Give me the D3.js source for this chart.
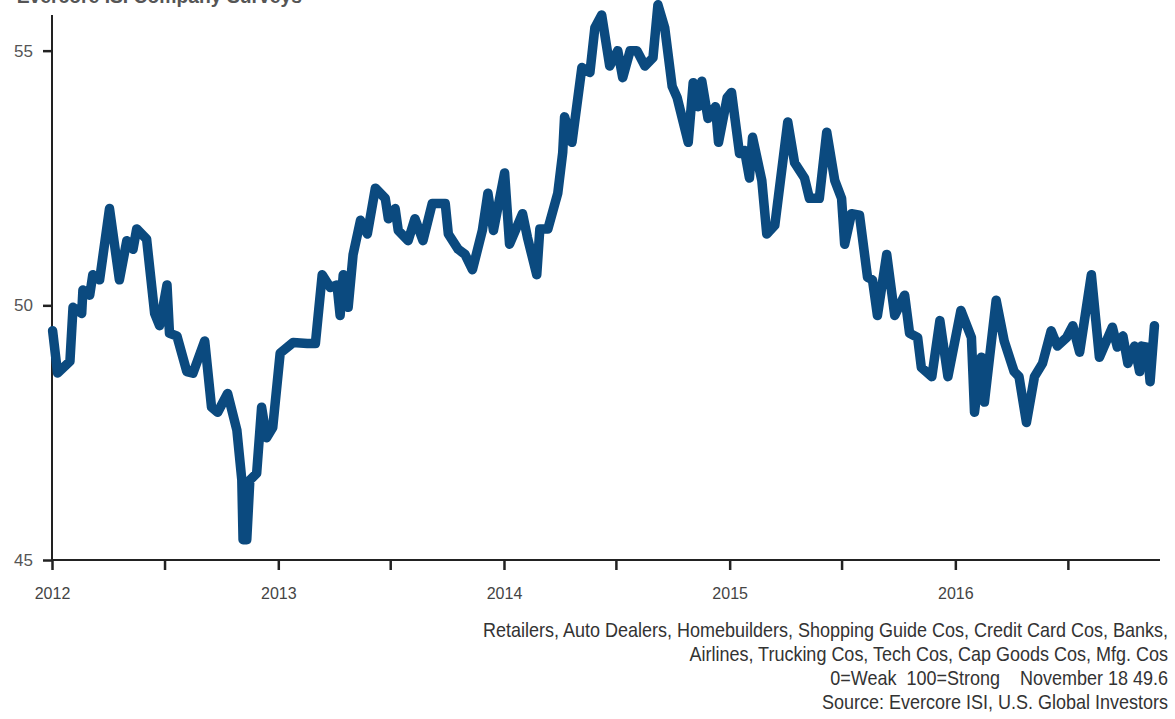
<!DOCTYPE html>
<html>
<head>
<meta charset="utf-8">
<script src="https://cdn.jsdelivr.net/npm/d3@7"></script>
<style>
  html, body { margin: 0; padding: 0; background: #fff; }
  svg { display: block; }
  .narrow { font-family: "Liberation Sans Narrow", "Arial Narrow", "Liberation Sans", sans-serif; }
</style>
</head>
<body>
<svg id="chart" width="1175" height="719"></svg>
<script>
// Evercore ISI company survey composite, weekly readings 2012 – Nov 2016
const dates = [
  "2012-01-02","2012-01-10","2012-01-30","2012-02-04","2012-02-18","2012-02-20","2012-03-02","2012-03-07",
  "2012-03-18","2012-04-03","2012-04-19","2012-05-01","2012-05-11","2012-05-17","2012-06-02","2012-06-15",
  "2012-06-23","2012-07-05","2012-07-09","2012-07-21","2012-08-06","2012-08-16","2012-09-04","2012-09-15",
  "2012-09-25","2012-10-11","2012-10-26","2012-11-03","2012-11-05","2012-11-11","2012-11-16","2012-11-27",
  "2012-12-05","2012-12-13","2012-12-23",
  "2013-01-04","2013-01-25","2013-02-17","2013-03-02","2013-03-13","2013-03-26","2013-04-06","2013-04-11",
  "2013-04-16","2013-04-24","2013-05-02","2013-05-14","2013-05-25","2013-06-07","2013-06-23","2013-06-28",
  "2013-07-09","2013-07-14","2013-07-30","2013-08-10","2013-08-23","2013-09-07","2013-09-28","2013-10-03",
  "2013-10-19","2013-10-30","2013-11-11","2013-11-27","2013-12-06","2013-12-15",
  "2014-01-02","2014-01-10","2014-01-31","2014-02-08","2014-02-23","2014-02-28","2014-03-13","2014-03-29",
  "2014-04-06","2014-04-09","2014-04-21","2014-05-07","2014-05-20","2014-05-28","2014-06-08","2014-06-21",
  "2014-07-04","2014-07-12","2014-07-24","2014-08-04","2014-08-17","2014-08-30","2014-09-07","2014-09-18",
  "2014-09-30","2014-10-08","2014-10-26","2014-11-03","2014-11-11","2014-11-17","2014-11-27","2014-12-09",
  "2014-12-14","2014-12-28",
  "2015-01-04","2015-01-17","2015-01-25","2015-02-02","2015-02-07","2015-02-22","2015-03-02","2015-03-15",
  "2015-04-05","2015-04-16","2015-05-02","2015-05-10","2015-05-26","2015-06-07","2015-06-20","2015-07-01",
  "2015-07-06","2015-07-17","2015-07-30","2015-08-12","2015-08-20","2015-08-28","2015-09-12","2015-09-25",
  "2015-10-11","2015-10-19","2015-11-01","2015-11-07","2015-11-24","2015-12-07","2015-12-20",
  "2016-01-10","2016-01-27","2016-02-01","2016-02-12","2016-02-17","2016-03-07","2016-03-20","2016-04-05",
  "2016-04-13","2016-04-25","2016-05-08","2016-05-21","2016-06-04","2016-06-14","2016-06-29","2016-07-09",
  "2016-07-20","2016-08-08","2016-08-21","2016-09-11","2016-09-19","2016-09-28","2016-10-06","2016-10-17",
  "2016-10-25","2016-10-28","2016-11-06","2016-11-11","2016-11-18"
];
const values = [
  49.5, 48.67, 48.9, 49.96, 49.84, 50.3, 50.2, 50.6,
  50.5, 51.9, 50.5, 51.27, 51.1, 51.5, 51.3, 49.84,
  49.6, 50.4, 49.45, 49.4, 48.7, 48.67, 49.3, 48.0,
  47.9, 48.27, 47.55, 46.57, 45.4, 45.4, 46.57, 46.7,
  48.0, 47.4, 47.6,
  49.06, 49.27, 49.25, 49.25, 50.6, 50.35, 50.4, 49.8,
  50.6, 49.96, 51.0, 51.67, 51.4, 52.3, 52.1, 51.7,
  51.9, 51.47, 51.27, 51.7, 51.27, 52.0, 52.0, 51.4,
  51.1, 51.0, 50.7, 51.47, 52.2, 51.47,
  52.6, 51.2, 51.8, 51.33, 50.6, 51.5, 51.5, 52.2,
  53.0, 53.7, 53.2, 54.67, 54.57, 55.45, 55.7, 54.7,
  55.0, 54.47, 55.0, 55.0, 54.7, 54.86, 55.9, 55.45,
  54.3, 54.08, 53.2, 54.37, 53.9, 54.4, 53.67, 53.9,
  53.2, 54.08,
  54.18, 52.98, 53.04, 52.5, 53.3, 52.45, 51.4, 51.57,
  53.6, 52.8, 52.5, 52.1, 52.1, 53.4, 52.45, 52.1,
  51.2, 51.8, 51.77, 50.55, 50.5, 49.8, 51.0, 49.8,
  50.2, 49.45, 49.37, 48.78, 48.6, 49.7, 48.6,
  49.9, 49.37, 47.9, 48.98, 48.1, 50.1, 49.3, 48.7,
  48.6, 47.7, 48.6, 48.86, 49.5, 49.2, 49.37, 49.6,
  49.08, 50.6, 48.98, 49.57, 49.18, 49.4, 48.86, 49.2,
  48.7, 49.2, 49.18, 48.5, 49.6
];
const yTicks = [45, 50, 55];
const yearLabels = ["2012", "2013", "2014", "2015", "2016"];
const footnotes = [
  "Retailers, Auto Dealers, Homebuilders, Shopping Guide Cos, Credit Card Cos, Banks,",
  "Airlines, Trucking Cos, Tech Cos, Cap Goods Cos, Mfg. Cos",
  "0=Weak  100=Strong    November 18 49.6",
  "Source: Evercore ISI, U.S. Global Investors"
];
const titleText = "Evercore ISI Company Surveys";

const parse = d3.timeParse("%Y-%m-%d");
const series = dates.map((d, i) => ({ date: parse(d), value: values[i] }));

const svg = d3.select("#chart");
const plot = { left: 52, right: 1160, top: 15, bottom: 560 };

const x = d3.scaleTime()
  .domain([new Date(2012, 0, 1), new Date(2016, 10, 27)])
  .range([plot.left, plot.right]);
const y = d3.scaleLinear()
  .domain([45, 55.7])
  .range([plot.bottom, plot.top]);

// Title, running off the top edge of the frame
svg.append("text")
  .attr("transform", "translate(302,3) scale(0.92,1)")
  .attr("text-anchor", "end")
  .attr("font-family", "Liberation Sans, Arial, sans-serif")
  .attr("font-weight", "bold")
  .attr("font-size", 21)
  .attr("fill", "#555")
  .text(titleText);

// Y axis
const yAxis = svg.append("g")
  .attr("transform", `translate(${plot.left},0)`)
  .call(d3.axisLeft(y).tickValues(yTicks).tickSize(9).tickPadding(10).tickFormat(d3.format("d")));
yAxis.select(".domain").attr("d", `M0,${plot.top}V${plot.bottom}`).attr("stroke", "#222").attr("stroke-width", 2);
yAxis.selectAll(".tick line").attr("stroke", "#222").attr("stroke-width", 2.5);
yAxis.selectAll(".tick text")
  .attr("class", "narrow")
  .attr("font-size", 17).attr("fill", "#555");

// X axis: half-year ticks, labels on January
const halfYears = d3.timeMonth.every(6).range(new Date(2012, 0, 1), new Date(2016, 10, 27));
const xAxis = svg.append("g")
  .attr("transform", `translate(0,${plot.bottom})`)
  .call(d3.axisBottom(x).tickValues(halfYears).tickSize(10).tickPadding(18)
    .tickFormat(d => d.getMonth() === 0 ? yearLabels[d.getFullYear() - 2012] : ""));
xAxis.select(".domain").attr("d", `M${plot.left},0H${plot.right}`).attr("stroke", "#222").attr("stroke-width", 2);
xAxis.selectAll(".tick line").attr("stroke", "#222").attr("stroke-width", 2.5);
xAxis.selectAll(".tick text")
  .attr("class", "narrow")
  .attr("font-size", 16).attr("fill", "#444");

// Survey line
const line = d3.line()
  .x(d => x(d.date))
  .y(d => y(d.value));
svg.append("path")
  .datum(series)
  .attr("d", line)
  .attr("fill", "none")
  .attr("stroke", "#0b4a7f")
  .attr("stroke-width", 9.5)
  .attr("stroke-linejoin", "round")
  .attr("stroke-linecap", "round");

// Footnotes, right-aligned and slightly condensed
svg.append("g")
  .selectAll("text")
  .data(footnotes)
  .join("text")
  .attr("class", "narrow")
  .attr("transform", (d, i) => `translate(1168,${637 + i * 24}) scale(0.9,1)`)
  .attr("text-anchor", "end")
  .attr("font-size", 20)
  .attr("fill", "#333")
  .style("white-space", "pre")
  .text(d => d);
</script>
</body>
</html>
